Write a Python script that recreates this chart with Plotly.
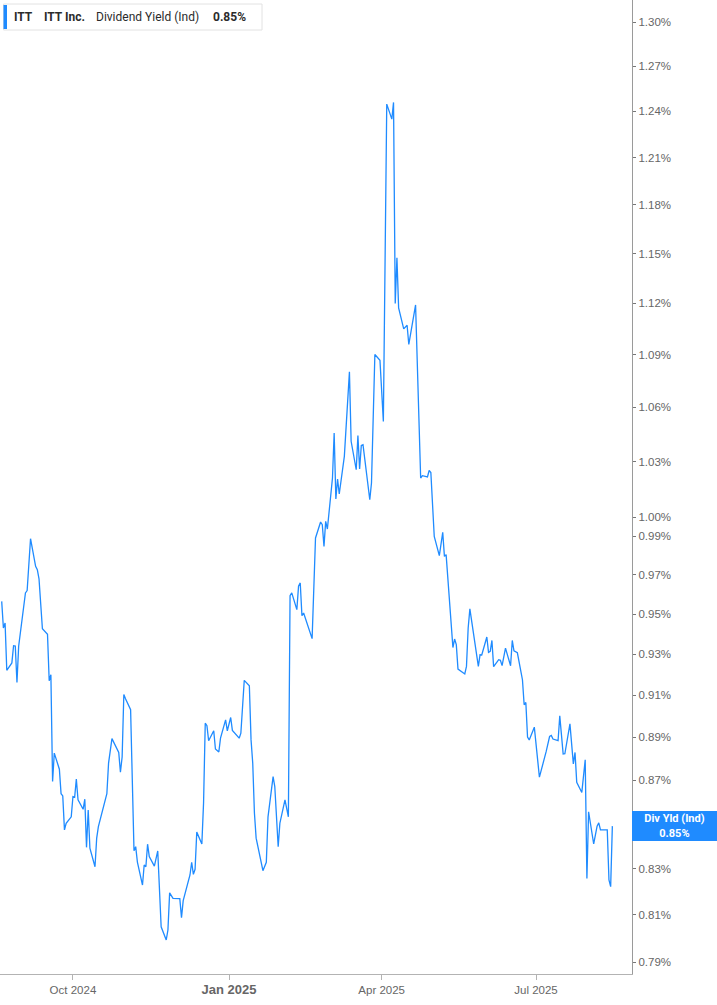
import math
import plotly.graph_objects as go

# ---------------- data ----------------
DATES = [
    # Aug 2024
    "2024-08-20", "2024-08-21", "2024-08-22", "2024-08-23", "2024-08-26", "2024-08-27",
    "2024-08-28", "2024-08-29", "2024-08-30",
    # Sep 2024
    "2024-09-03", "2024-09-04", "2024-09-06", "2024-09-09", "2024-09-10", "2024-09-11",
    "2024-09-13", "2024-09-16", "2024-09-17", "2024-09-18", "2024-09-19", "2024-09-20",
    "2024-09-23", "2024-09-24", "2024-09-25", "2024-09-26", "2024-09-27", "2024-09-30",
    # Oct 2024
    "2024-10-01", "2024-10-02", "2024-10-03", "2024-10-04", "2024-10-07", "2024-10-08",
    "2024-10-09", "2024-10-10", "2024-10-11", "2024-10-14", "2024-10-15", "2024-10-16",
    "2024-10-21", "2024-10-22", "2024-10-24", "2024-10-28", "2024-10-29", "2024-10-30",
    "2024-10-31",
    # Nov 2024
    "2024-11-01", "2024-11-04", "2024-11-06", "2024-11-07", "2024-11-08", "2024-11-11",
    "2024-11-12", "2024-11-13", "2024-11-14", "2024-11-15", "2024-11-18", "2024-11-20",
    "2024-11-22", "2024-11-25", "2024-11-26", "2024-11-27", "2024-11-29",
    # Dec 2024
    "2024-12-03", "2024-12-04", "2024-12-05", "2024-12-09", "2024-12-10", "2024-12-11",
    "2024-12-12", "2024-12-13", "2024-12-16", "2024-12-17", "2024-12-18", "2024-12-19",
    "2024-12-20", "2024-12-23", "2024-12-24", "2024-12-26", "2024-12-27", "2024-12-30",
    "2024-12-31",
    # Jan 2025
    "2025-01-02", "2025-01-03", "2025-01-07", "2025-01-08", "2025-01-10", "2025-01-13",
    "2025-01-14", "2025-01-15", "2025-01-16", "2025-01-17", "2025-01-21", "2025-01-23",
    "2025-01-24", "2025-01-27", "2025-01-28", "2025-01-30", "2025-01-31",
    # Feb 2025
    "2025-02-03", "2025-02-05", "2025-02-06", "2025-02-07", "2025-02-10", "2025-02-11",
    "2025-02-12", "2025-02-13", "2025-02-14", "2025-02-19", "2025-02-21", "2025-02-24",
    "2025-02-25", "2025-02-26", "2025-02-27", "2025-02-28",
    # Mar 2025
    "2025-03-03", "2025-03-04", "2025-03-05", "2025-03-06", "2025-03-07", "2025-03-10",
    "2025-03-11", "2025-03-13", "2025-03-14", "2025-03-17", "2025-03-18", "2025-03-19",
    "2025-03-20", "2025-03-21", "2025-03-25", "2025-03-26", "2025-03-28", "2025-03-31",
    # Apr 2025
    "2025-04-02", "2025-04-04", "2025-04-07", "2025-04-08", "2025-04-09", "2025-04-10",
    "2025-04-11", "2025-04-14", "2025-04-16", "2025-04-17", "2025-04-21", "2025-04-24",
    "2025-04-25", "2025-04-28", "2025-04-29", "2025-04-30",
    # May 2025
    "2025-05-02", "2025-05-05", "2025-05-07", "2025-05-08", "2025-05-09", "2025-05-13",
    "2025-05-14", "2025-05-15", "2025-05-16", "2025-05-20", "2025-05-21", "2025-05-22",
    "2025-05-23", "2025-05-28", "2025-05-29", "2025-05-30",
    # Jun 2025
    "2025-06-02", "2025-06-03", "2025-06-04", "2025-06-05", "2025-06-06", "2025-06-09",
    "2025-06-10", "2025-06-11", "2025-06-13", "2025-06-16", "2025-06-17", "2025-06-18",
    "2025-06-20", "2025-06-23", "2025-06-24", "2025-06-25", "2025-06-26", "2025-06-27",
    "2025-06-30",
    # Jul 2025
    "2025-07-03", "2025-07-07", "2025-07-09", "2025-07-10", "2025-07-11", "2025-07-14",
    "2025-07-15", "2025-07-17", "2025-07-18", "2025-07-21", "2025-07-23", "2025-07-24",
    "2025-07-25", "2025-07-28", "2025-07-30", "2025-07-31",
    # Aug 2025
    "2025-08-01", "2025-08-04", "2025-08-06", "2025-08-07", "2025-08-08", "2025-08-12",
    "2025-08-13", "2025-08-14", "2025-08-15",
]

YIELD_PCT = [
    # Aug 2024
    0.9564, 0.9430, 0.9455, 0.9221, 0.9257, 0.9342,
    0.9340, 0.9162, 0.9339,
    # Sep 2024
    0.9607, 0.9619, 0.9887, 0.9743, 0.9726, 0.9679,
    0.9426, 0.9399, 0.9170, 0.9199, 0.8693, 0.8825,
    0.8750, 0.8637, 0.8627, 0.8473, 0.8503, 0.8532,
    # Oct 2024
    0.8624, 0.8621, 0.8704, 0.8609, 0.8566, 0.8612,
    0.8395, 0.8563, 0.8391, 0.8309, 0.8436, 0.8488,
    0.8637, 0.8778, 0.8893, 0.8828, 0.8736, 0.8807,
    0.9103,
    # Nov 2024
    0.9083, 0.9030, 0.8380, 0.8398, 0.8330, 0.8229,
    0.8317, 0.8309, 0.8409, 0.8354, 0.8312, 0.8379,
    0.8049, 0.7993, 0.8035, 0.8195, 0.8171,
    # Dec 2024
    0.8170, 0.8088, 0.8161, 0.8273, 0.8329, 0.8276,
    0.8298, 0.8463, 0.8410, 0.8594, 0.8966, 0.8954,
    0.8883, 0.8930, 0.8844, 0.8830, 0.8895, 0.8982,
    0.8930,
    # Jan 2025
    0.8993, 0.8932, 0.8895, 0.8919, 0.9172, 0.9146,
    0.8887, 0.8778, 0.8548, 0.8436, 0.8292, 0.8329,
    0.8532, 0.8716, 0.8670, 0.8398, 0.8503,
    # Feb 2025
    0.8609, 0.8532, 0.9593, 0.9607, 0.9522, 0.9641,
    0.9658, 0.9492, 0.9505, 0.9377, 0.9891, 0.9975,
    0.9961, 0.9847, 0.9978, 0.9938,
    # Mar 2025
    1.0210, 1.0457, 1.0097, 1.0205, 1.0124, 1.0328,
    1.0475, 1.0801, 1.0411, 1.0255, 1.0443, 1.0259,
    1.0388, 1.0392, 1.0093, 1.0183, 1.0901, 1.0868,
    # Apr 2025
    1.0521, 1.2448, 1.2349, 1.2459, 1.1200, 1.1475,
    1.1174, 1.1050, 1.1071, 1.0959, 1.1191, 1.0210,
    1.0223, 1.0216, 1.0251, 1.0240,
    # May 2025
    0.9899, 0.9799, 0.9920, 0.9795, 0.9804, 0.9333,
    0.9375, 0.9347, 0.9227, 0.9203, 0.9240, 0.9430,
    0.9526, 0.9240, 0.9297, 0.9296,
    # Jun 2025
    0.9385, 0.9309, 0.9314, 0.9368, 0.9239, 0.9273,
    0.9270, 0.9244, 0.9330, 0.9243, 0.9368, 0.9317,
    0.9307, 0.9175, 0.9054, 0.9065, 0.8900, 0.8887,
    0.8947,
    # Jul 2025
    0.8713, 0.8833, 0.8903, 0.8908, 0.8891, 0.8883,
    0.9001, 0.8821, 0.8822, 0.8963, 0.8775, 0.8828,
    0.8689, 0.8643, 0.8794, 0.8258,
    # Aug 2025
    0.8555, 0.8410, 0.8490, 0.8505, 0.8473, 0.8473,
    0.8251, 0.8222, 0.8490,
]

Y_TICKS = [0.79, 0.81, 0.83, 0.85, 0.87, 0.89, 0.91, 0.93, 0.95, 0.97, 0.99,
           1.00, 1.03, 1.06, 1.09, 1.12, 1.15, 1.18, 1.21, 1.24, 1.27, 1.30]
X_TICKS = ["2024-10-01", "2025-01-01", "2025-04-01", "2025-07-01"]
X_TICK_TEXT = ["Oct 2024", "Jan 2025", "Apr 2025", "Jul 2025"]

TICKER = "ITT"
COMPANY = "ITT Inc."
METRIC = "Dividend Yield (Ind)"
METRIC_SHORT = "Div Yld (Ind)"

assert len(DATES) == len(YIELD_PCT)

# ---------------- styling ----------------
BLUE = "#1f8bff"
W, H = 717, 1005
ML, MR, MT, MB = 0, 85, 0, 31
PW, PH = W - ML - MR, H - MT - MB

last_val = YIELD_PCT[-1]
last_txt = f"{last_val:.2f}%"

fig = go.Figure()
fig.add_trace(go.Scatter(
    x=DATES, y=YIELD_PCT, mode="lines",
    line=dict(color=BLUE, width=1.3),
    hoverinfo="skip", showlegend=False,
))

tick_font = dict(family="Liberation Sans, Arial, sans-serif", size=11.5, color="#666666")

x_text = []
for t in X_TICK_TEXT:
    if t.startswith("Jan"):
        x_text.append(f"<span style='font-size:13px'><b>{t}</b></span>")
    else:
        x_text.append(t)

# the tick label that sits under the last-value badge is hidden by it in the reference
y_text = ["" if f"{v:.2f}%" == last_txt else f"{v:.2f}%" for v in Y_TICKS]

fig.update_layout(
    width=W, height=H,
    margin=dict(l=ML, r=MR, t=MT, b=MB, pad=0),
    paper_bgcolor="white", plot_bgcolor="white",
    showlegend=False,
    xaxis=dict(
        type="date",
        range=["2024-08-19", "2025-08-26 14:00"],
        tickmode="array", tickvals=X_TICKS, ticktext=x_text,
        showgrid=False, zeroline=False,
        showline=True, linecolor="#b3b3b3", linewidth=1.3,
        ticks="outside", ticklen=5, tickcolor="#b3b3b3", tickwidth=1,
        tickfont=tick_font,
        fixedrange=True,
    ),
    yaxis=dict(
        type="log", side="right",
        range=[math.log10(0.785), math.log10(1.3154)],
        tickmode="array", tickvals=Y_TICKS, ticktext=y_text,
        showgrid=False, zeroline=False,
        showline=True, linecolor="#9a9a9a", linewidth=1.3,
        ticks="outside", ticklen=3, tickcolor="#777777", tickwidth=1,
        tickfont=tick_font,
        fixedrange=True,
    ),
)

# ---- legend box (top-left) ----
def px_x(px):
    return px / PW

def px_y(py):
    return 1 - py / PH

fig.add_shape(type="rect", xref="paper", yref="paper",
              x0=px_x(3.5), x1=px_x(262), y0=px_y(30), y1=px_y(4),
              line=dict(color="#e2e2e2", width=1), fillcolor="white", layer="above")
fig.add_shape(type="rect", xref="paper", yref="paper",
              x0=px_x(3.5), x1=px_x(7), y0=px_y(29), y1=px_y(5),
              line=dict(width=0), fillcolor=BLUE, layer="above")

leg_font = dict(family="Roboto, Arial, sans-serif", size=12, color="#2b2b2b")
for xpos, txt in [(12, f"<b>{TICKER}</b>"), (42, f"<b>{COMPANY}</b>"),
                  (94, METRIC), (211, f"<b>{last_txt}</b>")]:
    fig.add_annotation(xref="paper", yref="paper", x=px_x(xpos), y=px_y(17),
                       xanchor="left", yanchor="middle", text=txt,
                       showarrow=False, font=leg_font)

# ---- last value label on the right axis ----
fig.add_annotation(
    xref="paper", yref="y", x=1.0, y=math.log10(last_val),
    xanchor="left", yanchor="middle",
    text=f"<b>{METRIC_SHORT}</b><br><b>{last_txt}</b>",
    showarrow=False, align="center",
    font=dict(family="Roboto, Arial, sans-serif", size=11, color="white"),
    bgcolor=BLUE, borderpad=1, borderwidth=0, width=83, height=28,
)

fig.write_html(
    "out.html", include_plotlyjs=True, config={"displayModeBar": False},
    post_script="document.body.style.margin='0';document.body.style.padding='0';",
)
